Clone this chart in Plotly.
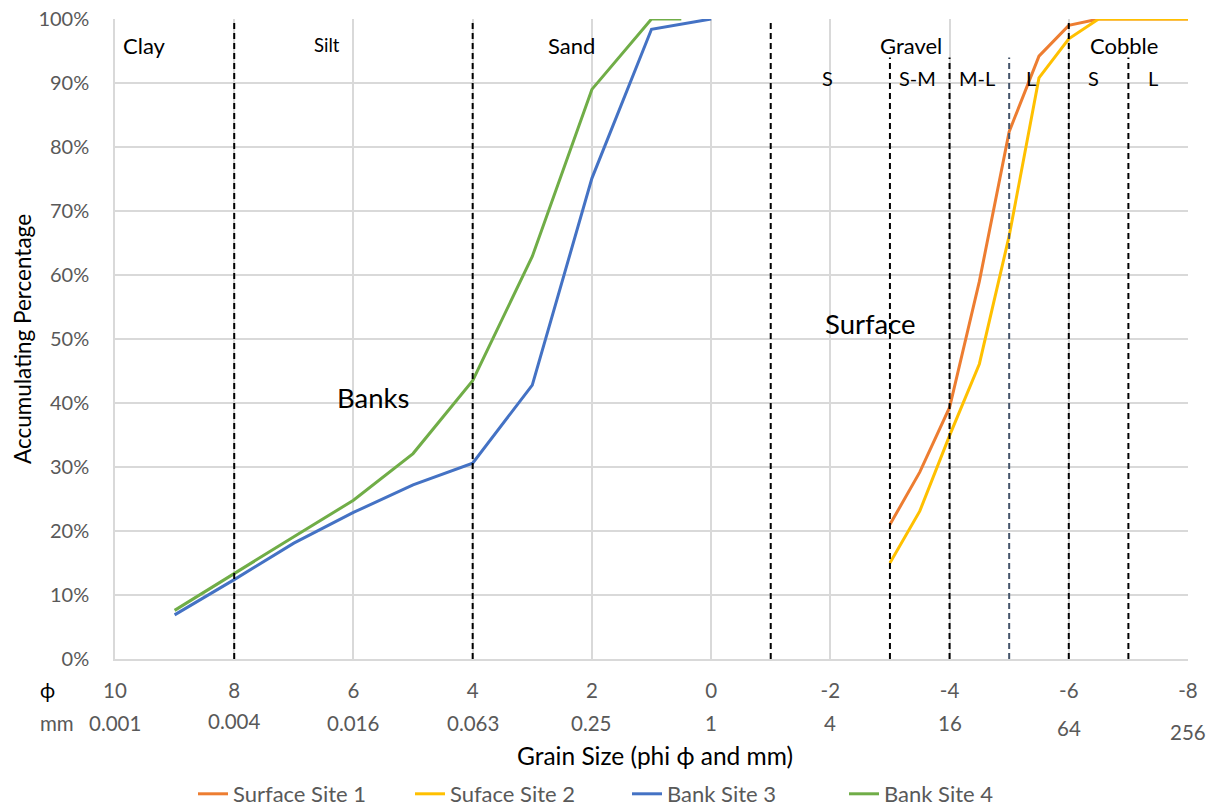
import plotly.graph_objects as go

# ---- data ----
phi_surface = [-3, -3.5, -4, -4.5, -5, -5.5, -6, -6.5, -7, -7.5, -8]
surface_site_1 = [21.0, 29.2, 39.3, 59.0, 82.4, 94.2, 99.0, 100, 100, 100, 100]
surface_site_2 = [15.0, 23.1, 34.9, 46.1, 66.1, 90.8, 96.9, 100, 100, 100, 100]

phi_bank3 = [9, 8, 7, 6, 5, 4, 3, 2, 1, 0]
bank_site_3 = [6.9, 12.4, 18.1, 22.9, 27.2, 30.6, 42.8, 75.1, 98.4, 100]
phi_bank4 = [9, 8, 7, 6, 5, 4, 3, 2, 1, 0.5]
bank_site_4 = [7.6, 13.4, 19.1, 24.8, 32.1, 43.5, 62.9, 89.0, 100, 100]

phi_ticks = [10, 8, 6, 4, 2, 0, -2, -4, -6, -8]
phi_labels = ["10", "8", "6", "4", "2", "0", "-2", "-4", "-6", "-8"]
mm_labels = ["0.001", "0.004", "0.016", "0.063", "0.25", "1", "4", "16", "64", "256"]
mm_offsets = [0, -2, 0, 0, 0, 0, 0, 0, 5, 9]

full_dividers = [8, 4, -1, -6]
sub_dividers = [-3, -4, -7]
slate_dividers = [-5]

class_labels = ["Clay", "Silt", "Sand", "Gravel", "Cobble"]
class_x = [9.5, 6.44, 2.35, -3.36, -6.93]
class_sizes = [22, 18.5, 22, 22, 22]
sub_labels = ["S", "S-M", "M-L", "L", "S", "L"]
sub_x = [-1.96, -3.46, -4.46, -5.37, -6.41, -7.42]

names = ["Surface Site 1", "Suface Site 2", "Bank Site 3", "Bank Site 4"]
colors = ["#ED7D31", "#FFC000", "#4472C4", "#70AD47"]

FONT = "Lato"
GRAY = "#595959"

fig = go.Figure()
series = [(phi_surface, surface_site_1), (phi_surface, surface_site_2),
          (phi_bank3, bank_site_3), (phi_bank4, bank_site_4)]
for (xs, ys), n, c in zip(series, names, colors):
    fig.add_trace(go.Scatter(x=xs, y=ys, mode="lines", name=n,
                             line=dict(color=c, width=3)))

shapes = []
for p in full_dividers:
    shapes.append(dict(type="line", xref="x", yref="y", x0=p, x1=p, y0=0, y1=100,
                       line=dict(color="black", width=2, dash="6px,4px"), layer="above"))
for p in sub_dividers:
    shapes.append(dict(type="line", xref="x", yref="y", x0=p, x1=p, y0=0, y1=94,
                       line=dict(color="black", width=2, dash="6px,4px"), layer="above"))
for p in slate_dividers:
    shapes.append(dict(type="line", xref="x", yref="y", x0=p, x1=p, y0=0, y1=94,
                       line=dict(color="#44546A", width=2, dash="6px,4px"), layer="above"))

ann = []
for t, x, s in zip(class_labels, class_x, class_sizes):
    ann.append(dict(text=t, x=x, y=95.9, xref="x", yref="y", showarrow=False,
                    font=dict(family=FONT, size=s, color="black")))
for t, x in zip(sub_labels, sub_x):
    ann.append(dict(text=t, x=x, y=90.8, xref="x", yref="y", showarrow=False,
                    font=dict(family=FONT, size=20, color="black")))
ann.append(dict(text="Surface", x=-2.68, y=52.5, xref="x", yref="y", showarrow=False,
                font=dict(family=FONT, size=27.5, color="black")))
ann.append(dict(text="Banks", x=5.67, y=40.9, xref="x", yref="y", showarrow=False,
                font=dict(family=FONT, size=27.5, color="black")))
for p, t, off in zip(phi_ticks, mm_labels, mm_offsets):
    ann.append(dict(text=t, x=p, y=-0.1, xref="x", yref="paper", showarrow=False,
                    yanchor="middle", yshift=-off,
                    font=dict(family=FONT, size=20.5, color=GRAY)))
ann.append(dict(text="ϕ", x=(37.5 - 115) / 1073, y=-0.048, xref="paper", yref="paper",
                showarrow=False, yanchor="middle",
                font=dict(family=FONT, size=20.5, color="black")))
ann.append(dict(text="mm", x=(37.5 - 115) / 1073, y=-0.1, xref="paper", yref="paper",
                showarrow=False, yanchor="middle",
                font=dict(family=FONT, size=20.5, color=GRAY)))
ann.append(dict(text="Grain Size (phi ϕ and mm)", x=0.503, y=-0.15, xref="paper", yref="paper",
                showarrow=False, yanchor="middle",
                font=dict(family=FONT, size=24.5, color="black")))
ann.append(dict(text="Accumulating Percentage", x=(22 - 115) / 1073, y=0.5, xref="paper",
                yref="paper", showarrow=False, textangle=-90, xanchor="center",
                yanchor="middle", font=dict(family=FONT, size=22.5, color="black")))

fig.update_layout(
    width=1216, height=810,
    margin=dict(l=115, r=28, t=19, b=151, autoexpand=False),
    plot_bgcolor="white", paper_bgcolor="white",
    font=dict(family=FONT, color=GRAY),
    shapes=shapes, annotations=ann,
    legend=dict(orientation="h", x=0.5 + 19 / 1216, xanchor="center", xref="container",
                y=1 - 794 / 810, yanchor="middle", yref="container",
                font=dict(family=FONT, size=22, color=GRAY),
                entrywidth=172, entrywidthmode="pixels"),
    showlegend=True,
)
fig.update_xaxes(range=[10, -8], tickvals=phi_ticks, ticktext=phi_labels,
                 showgrid=True, gridcolor="#D9D9D9", gridwidth=1.5,
                 showline=True, linecolor="#D9D9D9", linewidth=1.5,
                 zeroline=False, ticks="", ticklabelstandoff=13, automargin=False,
                 tickfont=dict(family=FONT, size=20.5, color=GRAY))
fig.update_yaxes(range=[0, 100], tickvals=list(range(0, 101, 10)),
                 ticktext=[f"{v}%" for v in range(0, 101, 10)],
                 showgrid=True, gridcolor="#D9D9D9", gridwidth=1.5,
                 showline=True, linecolor="#D9D9D9", linewidth=1.5,
                 zeroline=False, ticks="", ticklabelstandoff=20, automargin=False,
                 tickfont=dict(family=FONT, size=20, color=GRAY))

fig.write_html("out.html", config={"displayModeBar": False},
               post_script="document.body.style.margin='0';")
